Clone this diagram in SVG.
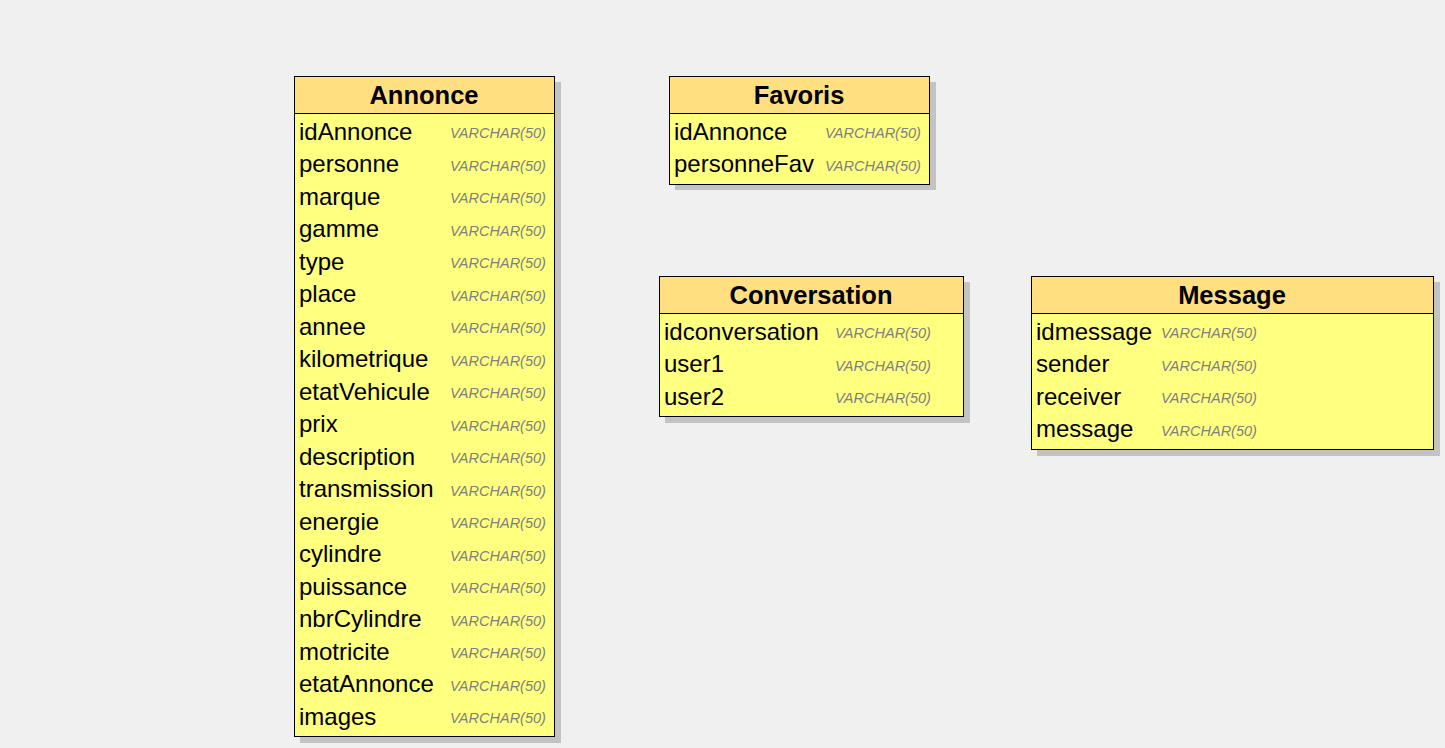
<svg xmlns="http://www.w3.org/2000/svg" width="1445" height="748" viewBox="0 0 1445 748">
<style>
.sh{fill:#c3c3c3}
.hd{fill:#ffdf80;stroke:#000;stroke-width:1}
.bd{fill:#ffff80;stroke:#000;stroke-width:1}
.t{font-family:"Liberation Sans",Arial,sans-serif;font-weight:bold;font-size:25.5px;fill:#000;text-anchor:middle}
.f{font-family:"Liberation Sans",Arial,sans-serif;font-size:24px;fill:#000}
.y{font-family:"Liberation Sans",Arial,sans-serif;font-style:italic;font-size:14.5px;fill:#808080}
</style>
<rect x="0" y="0" width="1445" height="748" fill="#f0f0f0"/>
<g id="annonce">
<rect class="sh" x="300" y="82" width="261" height="661"/>
<rect class="bd" x="294.5" y="76.5" width="260" height="660"/>
<rect class="hd" x="294.5" y="76.5" width="260" height="37"/>
<text class="t" x="424" y="104">Annonce</text>
<g class="f">
<text x="299" y="139.5">idAnnonce</text>
<text x="299" y="172">personne</text>
<text x="299" y="204.5">marque</text>
<text x="299" y="237">gamme</text>
<text x="299" y="269.5">type</text>
<text x="299" y="302">place</text>
<text x="299" y="334.5">annee</text>
<text x="299" y="367">kilometrique</text>
<text x="299" y="399.5">etatVehicule</text>
<text x="299" y="432">prix</text>
<text x="299" y="464.5">description</text>
<text x="299" y="497">transmission</text>
<text x="299" y="529.5">energie</text>
<text x="299" y="562">cylindre</text>
<text x="299" y="594.5">puissance</text>
<text x="299" y="627">nbrCylindre</text>
<text x="299" y="659.5">motricite</text>
<text x="299" y="692">etatAnnonce</text>
<text x="299" y="724.5">images</text>
</g>
<g class="y">
<text x="450" y="138">VARCHAR(50)</text>
<text x="450" y="170.5">VARCHAR(50)</text>
<text x="450" y="203">VARCHAR(50)</text>
<text x="450" y="235.5">VARCHAR(50)</text>
<text x="450" y="268">VARCHAR(50)</text>
<text x="450" y="300.5">VARCHAR(50)</text>
<text x="450" y="333">VARCHAR(50)</text>
<text x="450" y="365.5">VARCHAR(50)</text>
<text x="450" y="398">VARCHAR(50)</text>
<text x="450" y="430.5">VARCHAR(50)</text>
<text x="450" y="463">VARCHAR(50)</text>
<text x="450" y="495.5">VARCHAR(50)</text>
<text x="450" y="528">VARCHAR(50)</text>
<text x="450" y="560.5">VARCHAR(50)</text>
<text x="450" y="593">VARCHAR(50)</text>
<text x="450" y="625.5">VARCHAR(50)</text>
<text x="450" y="658">VARCHAR(50)</text>
<text x="450" y="690.5">VARCHAR(50)</text>
<text x="450" y="723">VARCHAR(50)</text>
</g>
</g>
<g id="favoris">
<rect class="sh" x="675" y="82" width="261" height="108"/>
<rect class="bd" x="669.5" y="76.5" width="260" height="108"/>
<rect class="hd" x="669.5" y="76.5" width="260" height="37"/>
<text class="t" x="799" y="104">Favoris</text>
<text class="f" x="674" y="139.5">idAnnonce</text>
<text class="f" x="674" y="172">personneFav</text>
<text class="y" x="825" y="138">VARCHAR(50)</text>
<text class="y" x="825" y="170.5">VARCHAR(50)</text>
</g>
<g id="conversation">
<rect class="sh" x="665" y="282" width="305" height="141"/>
<rect class="bd" x="659.5" y="276.5" width="304" height="140"/>
<rect class="hd" x="659.5" y="276.5" width="304" height="37"/>
<text class="t" x="811" y="304">Conversation</text>
<text class="f" x="664" y="339.5">idconversation</text>
<text class="f" x="664" y="372">user1</text>
<text class="f" x="664" y="404.5">user2</text>
<text class="y" x="835" y="338">VARCHAR(50)</text>
<text class="y" x="835" y="370.5">VARCHAR(50)</text>
<text class="y" x="835" y="403">VARCHAR(50)</text>
</g>
<g id="message">
<rect class="sh" x="1037" y="282" width="403" height="174"/>
<rect class="bd" x="1031.5" y="276.5" width="402" height="173"/>
<rect class="hd" x="1031.5" y="276.5" width="402" height="37"/>
<text class="t" x="1232" y="304">Message</text>
<text class="f" x="1036" y="339.5">idmessage</text>
<text class="f" x="1036" y="372">sender</text>
<text class="f" x="1036" y="404.5">receiver</text>
<text class="f" x="1036" y="437">message</text>
<text class="y" x="1161" y="338">VARCHAR(50)</text>
<text class="y" x="1161" y="370.5">VARCHAR(50)</text>
<text class="y" x="1161" y="403">VARCHAR(50)</text>
<text class="y" x="1161" y="435.5">VARCHAR(50)</text>
</g>
<g id="connectors"/>
</svg>
